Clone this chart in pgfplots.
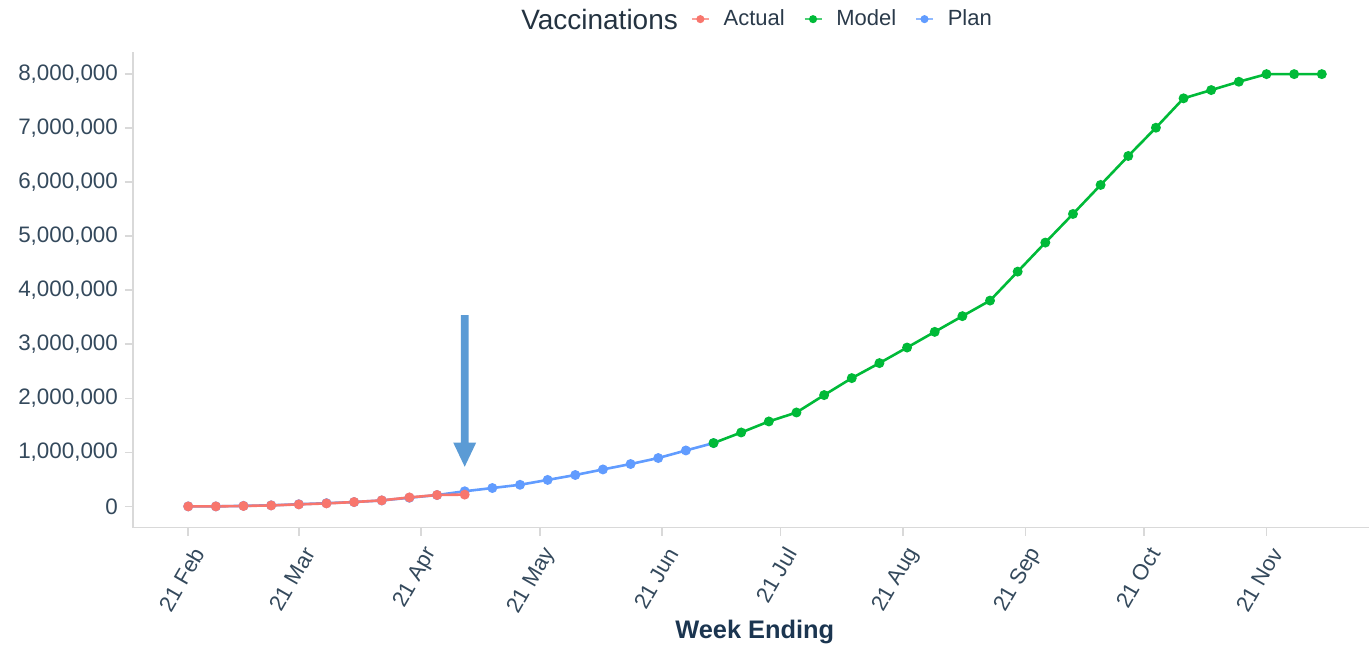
\documentclass[border=0pt]{standalone}
\usepackage{pgfplots}
\pgfplotsset{compat=1.18}
\usetikzlibrary{calc}
\usepackage{fontspec}
\setmainfont{Liberation Sans}
\definecolor{cact}{HTML}{F8766D}
\definecolor{cmod}{HTML}{00BA38}
\definecolor{cplan}{HTML}{619CFF}
\definecolor{carrow}{HTML}{5B9BD5}
\definecolor{ctick}{HTML}{34495C}
\definecolor{ctitle}{HTML}{1B3550}
\definecolor{caxis}{HTML}{D9D9D9}
\begin{document}
\begin{tikzpicture}
\begin{axis}[
  scale only axis,
  width=618.5pt, height=238pt,
  xmin=-14, xmax=299,
  ymin=-394000, ymax=8410000,
  axis x line*=bottom, axis y line*=left,
  axis line style={caxis, line width=0.8pt, -},
  tick style={caxis, line width=0.8pt},
  tick align=outside,
  major tick length=4pt,
  xtick={0,28,59,89,120,150,181,212,242,273},
  xticklabels={21 Feb,21 Mar,21 Apr,21 May,21 Jun,21 Jul,21 Aug,21 Sep,21 Oct,21 Nov},
  xticklabel style={xshift=7pt, yshift=-4pt, rotate=60, anchor=east, font=\fontsize{11}{13}\selectfont, text=ctick},
  ytick={0,1000000,2000000,3000000,4000000,5000000,6000000,7000000,8000000},
  scaled y ticks=false,
  yticklabel style={font=\fontsize{11.2}{13}\selectfont, text=ctick, /pgf/number format/fixed, /pgf/number format/1000 sep={,}},
  /pgf/number format/assume math mode=true,
  xlabel={\textbf{Week Ending}},
  xlabel style={font=\fontsize{12.7}{14}\selectfont, text=ctitle, at={(axis description cs:0.503,0)}, anchor=center, yshift=-52pt},
  legend columns=-1,
  legend style={draw=none, fill=none, at={(axis description cs:0.4463,1.069)}, anchor=west,
    font=\fontsize{11}{13}\selectfont, text=ctick!80!black,
    /tikz/every odd column/.append style={column sep=5pt},
    /tikz/every even column/.append style={column sep=7.5pt}},
  legend image code/.code={\draw[mark repeat=2,mark phase=2,#1] plot coordinates {(0pt,0pt) (4.25pt,0pt) (8.5pt,0pt)};},
  clip=false,
]
\addlegendimage{cact!70, line width=0.8pt, mark=*, mark size=1.6pt, mark options={cact}}\addlegendentry{Actual}
\addlegendimage{cmod!70, line width=0.8pt, mark=*, mark size=1.6pt, mark options={cmod}}\addlegendentry{Model}
\addlegendimage{cplan!70, line width=0.8pt, mark=*, mark size=1.6pt, mark options={cplan}}\addlegendentry{Plan}

% Plan
\addplot[forget plot, cplan, line width=1.3pt, mark=*, mark size=1.8pt] coordinates {
(0,0) (7,0) (14,10000) (21,20000) (28,40000) (35,60000) (42,80000) (49,110000)
(56,160000) (63,210000) (70,280000) (77,340000) (84,400000) (91,490000)
(98,581000) (105,684000) (112,784000) (119,895000) (126,1035000) (133,1172000)};
% Model
\addplot[forget plot, cmod, line width=1.3pt, mark=*, mark size=1.8pt] coordinates {
(133,1172000) (140,1368000) (147,1572000) (154,1738000) (161,2060000) (168,2374000)
(175,2652000) (182,2940000) (189,3230000) (196,3521000) (203,3809000) (210,4345000)
(217,4882000) (224,5412000) (231,5949000) (238,6485000) (245,7008000) (252,7552000)
(259,7705000) (266,7859000) (273,8000000) (280,8000000) (287,8000000)};
% Actual
\addplot[forget plot, cact, line width=1.3pt, mark=*, mark size=1.8pt] coordinates {
(0,0) (7,0) (14,8000) (21,18000) (28,37000) (35,55000) (42,81000) (49,111000)
(56,166000) (63,211000) (70,218000)};

% arrow annotation
\fill[carrow] (axis cs:69,3540000) -- (axis cs:71,3540000) -- (axis cs:71,1180000)
  -- (axis cs:72.9,1180000) -- (axis cs:70,734000) -- (axis cs:67.1,1180000)
  -- (axis cs:69,1180000) -- cycle;

\node[anchor=east, font=\fontsize{14}{16}\selectfont, text=ctick!70!black] at (axis description cs:0.4465,1.069) {Vaccinations};
\end{axis}
\useasboundingbox ($(current axis.south west)+(-66.5pt,-60pt)$) rectangle ($(current axis.north east)+(0pt,26pt)$);
\end{tikzpicture}
\end{document}
